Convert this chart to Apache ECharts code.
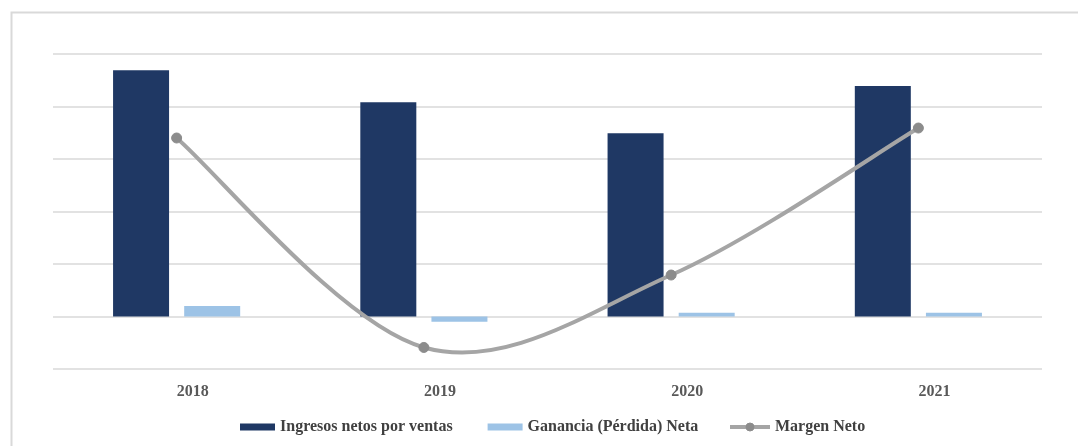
<!DOCTYPE html>
<html>
<head>
<meta charset="utf-8">
<style>
  html, body { margin: 0; padding: 0; background: #ffffff; }
  #chart { width: 1078px; height: 446px; }
</style>
<script src="https://cdn.jsdelivr.net/npm/echarts@6/dist/echarts.min.js"></script>
</head>
<body>
<div id="chart"></div>
<script>
// Years on the category axis
const years = ['2018', '2019', '2020', '2021'];
// Net sales revenue
const ingresos = [4.69, 4.08, 3.49, 4.39];
// Net profit (loss)
const ganancia = [0.20, -0.10, 0.07, 0.07];
// Net margin
const margen = [3.40, -0.59, 0.79, 3.59];

const serif = 'Liberation Serif';
const lineGrey = '#a5a5a5';
const markerGrey = '#8c8c8c';
const legendText = { fontFamily: serif, fontWeight: 'bold', fontSize: 16, color: '#404040' };

// Catmull-Rom spline through the margin points, expressed as cubic Bezier segments
function marginCurve(params, api) {
  const p = margen.map((v, i) => api.coord([i, v]));
  const at = (i) => p[Math.max(0, Math.min(p.length - 1, i))];
  let d = 'M' + p[0][0] + ',' + p[0][1];
  for (let i = 0; i < p.length - 1; i++) {
    const a = at(i - 1), b = at(i), c = at(i + 1), e = at(i + 2);
    const c1 = [b[0] + (c[0] - a[0]) / 6, b[1] + (c[1] - a[1]) / 6];
    const c2 = [c[0] - (e[0] - b[0]) / 6, c[1] - (e[1] - b[1]) / 6];
    d += ' C' + c1.join(',') + ' ' + c2.join(',') + ' ' + c.join(',');
  }
  return {
    type: 'path',
    shape: { pathData: d },
    style: { fill: 'none', stroke: lineGrey, lineWidth: 4, lineCap: 'round', lineJoin: 'round' }
  };
}

const chart = echarts.init(document.getElementById('chart'), null, { renderer: 'canvas' });

chart.setOption({
  animation: false,
  backgroundColor: '#ffffff',
  graphic: [{
    type: 'rect',
    left: 9, top: 10,
    shape: { width: 1100, height: 460 },
    style: { fill: 'none', stroke: '#d9d9d9', lineWidth: 2 },
    silent: true,
    z: -10
  }],
  grid: { left: 53, right: 36, top: 54, bottom: 77, containLabel: false },
  legend: [
    {
      left: 235,
      bottom: 6,
      itemWidth: 35,
      itemHeight: 7,
      itemGap: 35,
      textStyle: legendText,
      data: [
        { name: 'Ingresos netos por ventas', icon: 'rect' },
        { name: 'Ganancia (Pérdida) Neta', icon: 'rect' }
      ]
    },
    {
      left: 723,
      bottom: 6,
      itemWidth: 40,
      itemHeight: 10,
      textStyle: legendText,
      data: [{
        name: 'Margen Neto',
        lineStyle: { color: lineGrey, width: 4, opacity: 1 },
        itemStyle: { color: markerGrey, borderColor: markerGrey, borderWidth: 1 }
      }]
    }
  ],
  xAxis: {
    type: 'category',
    data: years,
    axisLine: { show: false },
    axisTick: { show: false },
    axisLabel: {
      margin: 15,
      padding: [0, 0, 0, 32],
      fontFamily: serif,
      fontWeight: 'bold',
      fontSize: 16,
      color: '#595959'
    }
  },
  yAxis: {
    type: 'value',
    min: -1,
    max: 5,
    interval: 1,
    axisLabel: { show: false },
    axisLine: { show: false },
    axisTick: { show: false },
    splitLine: { lineStyle: { color: '#d9d9d9', width: 1.5 } }
  },
  series: [
    {
      name: 'Ingresos netos por ventas',
      type: 'bar',
      data: ingresos,
      barWidth: 56,
      barGap: '27%',
      itemStyle: { color: '#1f3864' }
    },
    {
      name: 'Ganancia (Pérdida) Neta',
      type: 'bar',
      data: ganancia,
      barWidth: 56,
      itemStyle: { color: '#9dc3e6' }
    },
    {
      name: 'Margen Neto (curva)',
      type: 'custom',
      renderItem: marginCurve,
      data: [[0, margen[0]]],
      silent: true,
      z: 4
    },
    {
      name: 'Margen Neto',
      type: 'line',
      data: margen,
      symbol: 'circle',
      symbolSize: 10,
      lineStyle: { width: 0, opacity: 0 },
      itemStyle: { color: markerGrey, borderColor: markerGrey, borderWidth: 1 },
      z: 5
    }
  ]
});
</script>
</body>
</html>
